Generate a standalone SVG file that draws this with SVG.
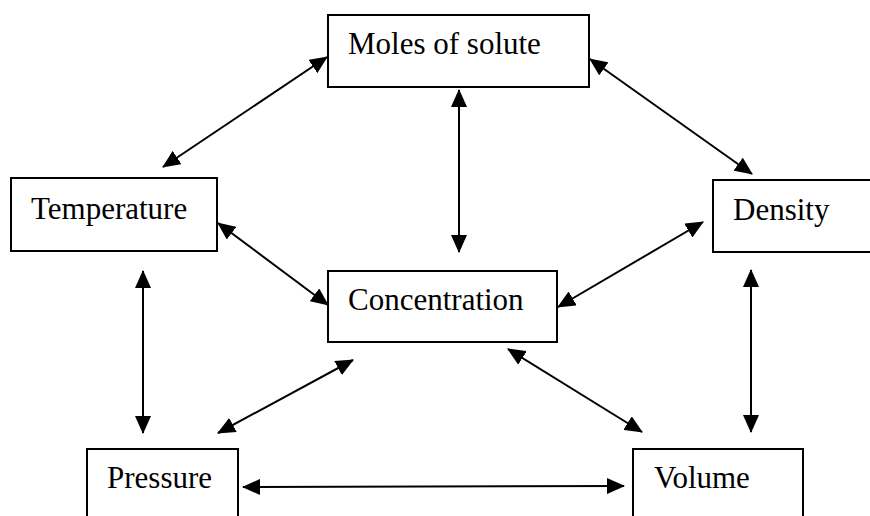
<svg xmlns="http://www.w3.org/2000/svg" width="870" height="516" viewBox="0 0 870 516">
<style>
.box{fill:#fff;stroke:#000;stroke-width:2}
.lbl{font-family:"Liberation Serif","Times New Roman",serif;font-size:31px;fill:#000}
.ar{stroke:#000;stroke-width:2;fill:none;marker-start:url(#ah);marker-end:url(#ah)}
</style>
<defs>
<marker id="ah" markerUnits="userSpaceOnUse" markerWidth="18" markerHeight="16" refX="17" refY="8" orient="auto-start-reverse" viewBox="0 0 18 16">
<path d="M0,0 L18,8 L0,16 z" fill="#000"/>
</marker>
</defs>
<rect width="870" height="516" fill="#fff"/>
<g id="moles"><rect class="box" x="328" y="15" width="261" height="72"/><text class="lbl" x="348" y="54">Moles of solute</text></g>
<g id="temperature"><rect class="box" x="11" y="178" width="206" height="73"/><text class="lbl" x="31" y="219">Temperature</text></g>
<g id="density"><rect class="box" x="713" y="180" width="170" height="72"/><text class="lbl" x="733" y="220">Density</text></g>
<g id="concentration"><rect class="box" x="328" y="271" width="229" height="71"/><text class="lbl" x="348" y="310">Concentration</text></g>
<g id="pressure"><rect class="box" x="87" y="449" width="151" height="80"/><text class="lbl" x="107" y="488">Pressure</text></g>
<g id="volume"><rect class="box" x="633" y="449" width="170" height="80"/><text class="lbl" x="654" y="488">Volume</text></g>
<g id="connectors">
<line class="ar" x1="163" y1="167" x2="327" y2="57"/>
<line class="ar" x1="590" y1="59" x2="752" y2="174"/>
<line class="ar" x1="459" y1="90" x2="459" y2="252"/>
<line class="ar" x1="218" y1="223" x2="328" y2="305"/>
<line class="ar" x1="558" y1="307" x2="703" y2="222"/>
<line class="ar" x1="143" y1="271" x2="143" y2="433"/>
<line class="ar" x1="218" y1="433" x2="353" y2="360"/>
<line class="ar" x1="508" y1="349" x2="642" y2="432"/>
<line class="ar" x1="751" y1="270" x2="751" y2="432"/>
<line class="ar" x1="243" y1="487" x2="624" y2="486"/>
</g>
</svg>
